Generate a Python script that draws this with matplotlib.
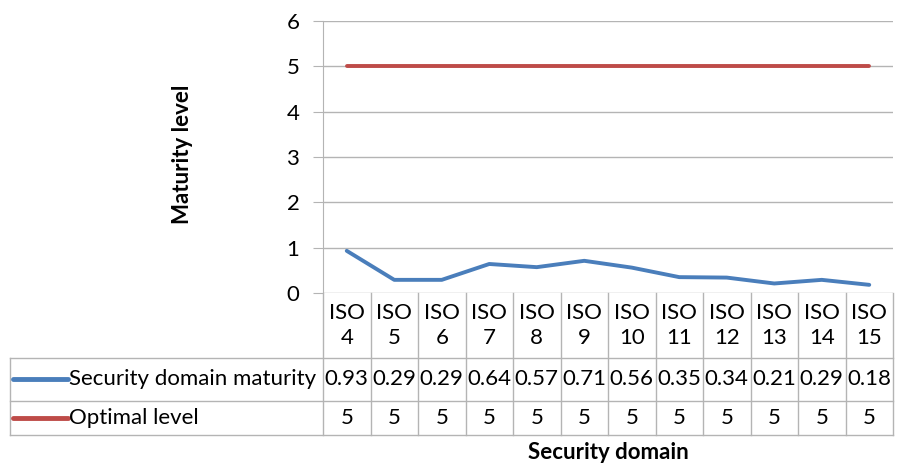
import matplotlib
matplotlib.use("Agg")
import matplotlib.pyplot as plt
from matplotlib.transforms import blended_transform_factory
from matplotlib.lines import Line2D

plt.rcParams['font.family'] = ['Lato', 'DejaVu Sans']

# data
domains = ['ISO\n4', 'ISO\n5', 'ISO\n6', 'ISO\n7', 'ISO\n8', 'ISO\n9', 'ISO\n10',
           'ISO\n11', 'ISO\n12', 'ISO\n13', 'ISO\n14', 'ISO\n15']
maturity = [0.93, 0.29, 0.29, 0.64, 0.57, 0.71, 0.56, 0.35, 0.34, 0.21, 0.29, 0.18]
optimal = [5, 5, 5, 5, 5, 5, 5, 5, 5, 5, 5, 5]
series_names = ['Security domain maturity', 'Optimal level']
series_colors = ['#4a7ebb', '#be4b48']
yticks = [0, 1, 2, 3, 4, 5, 6]

grid_col = '#b4b4b4'
fs = 16

fig = plt.figure(figsize=(9.05, 4.65), dpi=100)
ax = fig.add_axes([323/905, 1-293/465, 570/905, 272/465])

x = list(range(len(domains)))
ax.plot(x, maturity, color=series_colors[0], lw=2.8, solid_capstyle='round')
ax.plot(x, optimal, color=series_colors[1], lw=2.8, solid_capstyle='round')

ax.set_xlim(-0.5, len(domains)-0.5)
ax.set_ylim(0, 6)
ax.set_yticks(yticks)
ax.set_xticks([])
ax.yaxis.grid(True, color=grid_col, lw=1)
ax.set_axisbelow(True)
for s in ['top', 'right', 'bottom']:
    ax.spines[s].set_visible(False)
ax.spines['left'].set_color(grid_col)
ax.tick_params(axis='y', length=7, color=grid_col, labelsize=fs, pad=10)

ax.set_ylabel('Maturity level', fontsize=fs, fontweight='bold', labelpad=0)
ax.yaxis.set_label_coords(-0.228, 0.51)

# data table below the plot
tr = blended_transform_factory(ax.transData, ax.transAxes)
h_bot = -0.239   # bottom of header row
r1_bot = -0.397
r2_bot = -0.522
left = -0.549

line_kw = dict(color=grid_col, lw=1, clip_on=False)
# vertical cell borders
for i in range(len(domains)+1):
    ax.plot([i-0.5, i-0.5], [0, r2_bot], transform=tr, **line_kw)
ax.plot([left, left], [h_bot, r2_bot], transform=ax.transAxes, **line_kw)
# horizontal cell borders
for yy in [h_bot, r1_bot, r2_bot]:
    ax.plot([left, 1], [yy, yy], transform=ax.transAxes, **line_kw)

# header
for i, lab in enumerate(domains):
    ax.text(i, h_bot/2, lab, transform=tr, ha='center', va='center',
            fontsize=fs, linespacing=1.35)

rows = [maturity, optimal]
row_centers = [(h_bot+r1_bot)/2, (r1_bot+r2_bot)/2]
for vals, name, col, yc in zip(rows, series_names, series_colors, row_centers):
    for i, v in enumerate(vals):
        ax.text(i, yc, f'{v:g}', transform=tr, ha='center', va='center', fontsize=fs)
    ax.add_line(Line2D([-0.543, -0.448], [yc, yc], transform=ax.transAxes,
                       color=col, lw=3.5, solid_capstyle='round', clip_on=False))
    ax.text(-0.445, yc, name, transform=ax.transAxes, ha='left', va='center', fontsize=fs)

fig.text(608/905, 1-452/465, 'Security domain', ha='center', va='center',
         fontsize=fs, fontweight='bold')

fig.savefig('out.png', dpi=100, facecolor='white')
